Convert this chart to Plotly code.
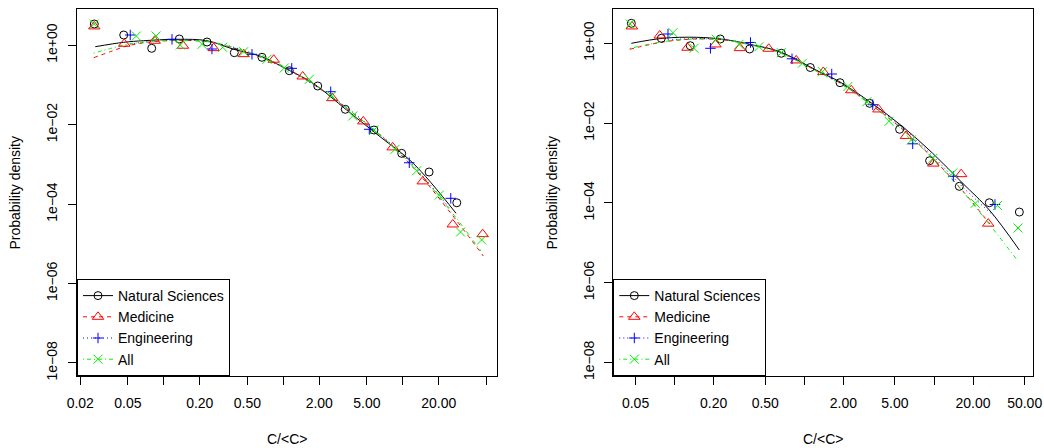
import plotly.graph_objects as go

FONT = "Liberation Sans, Arial, Helvetica, sans-serif"

series_names = ["Natural Sciences", "Medicine", "Engineering", "All"]
series_colors = ["#000000", "#FF0000", "#0000FF", "#00F000"]
series_symbols = ["circle-open", "triangle-up-open", "cross-thin-open", "x-thin-open"]
series_sizes = [8, 10, 7.5, 9]
series_dash = ["solid", "4px,4px", "1px,3px", "1px,3px,4px,3px"]

x_tickvals_left = [0.02, 0.05, 0.1, 0.2, 0.5, 1, 2, 5, 10, 20, 50]
x_ticktext_left = ["0.02", "0.05", "", "0.20", "0.50", "", "2.00", "5.00", "", "20.00", ""]
x_tickvals_right = [0.05, 0.1, 0.2, 0.5, 1, 2, 5, 10, 20, 50]
x_ticktext_right = ["0.05", "", "0.20", "0.50", "", "2.00", "5.00", "", "20.00", "50.00"]
y_tickvals = [1e-8, 1e-6, 1e-4, 1e-2, 1]
y_ticktext = ["1e\u221208", "1e\u221206", "1e\u221204", "1e\u221202", "1e+00"]

# ---------------- Left panel: data points ----------------
L_nat_x = [0.0262, 0.0462, 0.0792, 0.1348, 0.23, 0.389, 0.663, 1.123, 1.941, 3.303, 5.74, 9.79, 16.6, 28.3]
L_nat_y = [3.44, 1.817, 0.84, 1.44, 1.21, 0.651, 0.499, 0.229, 0.0944, 0.0244, 0.00735, 0.0019, 0.000644, 0.000108]

L_med_x = [0.0262, 0.0467, 0.0839, 0.1448, 0.2616, 0.466, 0.831, 1.453, 2.57, 4.67, 8.23, 14.68, 26.2, 46.6]
L_med_y = [2.99, 1.095, 1.30, 0.975, 0.848, 0.599, 0.433, 0.164, 0.0466, 0.0121, 0.00268, 0.000373, 3.07e-5, 1.75e-5]

L_eng_x = [0.0524, 0.1171, 0.253, 0.547, 1.176, 2.493, 5.245, 11.33, 25.2]
L_eng_y = [1.817, 1.416, 0.807, 0.593, 0.263, 0.0678, 0.00766, 0.0011, 0.00014]

L_all_x = [0.0262, 0.0589, 0.0861, 0.1374, 0.2089, 0.311, 0.466, 0.7305, 1.019, 1.651, 2.54, 3.81, 5.74, 8.6, 13.07, 20.2, 30.4, 45.7]
L_all_y = [3.44, 1.715, 1.715, 1.017, 1.06, 0.89, 0.69, 0.444, 0.268, 0.139, 0.0538, 0.01656, 0.00735, 0.0024, 0.000694, 0.000169, 1.98e-5, 1.25e-5]

# ---------------- Left panel: fitted curves ----------------
L_nat_fit_x = [0.0267, 0.0462, 0.0679, 0.129, 0.23, 0.385, 0.663, 1.039, 1.78, 3.39, 6.45, 12.2, 27.9]
L_nat_fit_y = [0.922, 1.19, 1.306, 1.416, 1.306, 0.793, 0.516, 0.263, 0.110, 0.0234, 0.00499, 0.00107, 5.86e-5]

L_med_fit_x = [0.0259, 0.0357, 0.0492, 0.0766, 0.1367, 0.2436, 0.434, 0.774, 1.38, 2.46, 4.38, 7.81, 13.9, 24.8, 47.2]
L_med_fit_y = [0.487, 0.69, 0.96, 1.21, 1.32, 1.21, 0.762, 0.402, 0.169, 0.0528, 0.0139, 0.00327, 0.00054, 6.3e-5, 4.93e-6]

L_eng_fit_x = [0.0521, 0.1127, 0.2436, 0.526, 1.138, 2.46, 5.31, 11.49, 25.3]
L_eng_fit_y = [1.078, 1.36, 1.21, 0.659, 0.225, 0.0544, 0.00927, 0.00115, 7.1e-5]

L_all_fit_x = [0.0259, 0.0357, 0.0492, 0.0766, 0.1367, 0.2436, 0.434, 0.774, 1.38, 2.46, 4.38, 7.81, 13.9, 24.8, 45.1]
L_all_fit_y = [0.629, 0.831, 1.047, 1.246, 1.336, 1.21, 0.784, 0.414, 0.173, 0.0544, 0.0143, 0.00336, 0.000573, 7.1e-5, 6.59e-6]

# ---------------- Right panel: data points ----------------
R_nat_x = [0.0464, 0.079, 0.132, 0.225, 0.379, 0.665, 1.112, 1.885, 3.19, 5.43, 9.25, 15.67, 26.7, 45.5]
R_nat_y = [3.17, 1.335, 0.871, 1.281, 0.72, 0.562, 0.2474, 0.1029, 0.0313, 0.007, 0.00114, 0.00026, 0.000101, 5.9e-5]

R_med_x = [0.0469, 0.0768, 0.1257, 0.2066, 0.319, 0.5314, 0.866, 1.401, 2.30, 3.73, 6.08, 9.88, 16.2, 26.2]
R_med_y = [2.645, 1.573, 0.774, 0.936, 0.756, 0.730, 0.372, 0.191, 0.0666, 0.0220, 0.00477, 0.000966, 0.000525, 3.02e-5]

R_eng_x = [0.0889, 0.189, 0.3847, 0.804, 1.627, 3.37, 6.85, 14.09, 29.5]
R_eng_y = [1.71, 0.749, 1.047, 0.409, 0.170, 0.0289, 0.00303, 0.000464, 9.12e-5]

R_all_x = [0.0455, 0.0972, 0.1411, 0.2097, 0.3137, 0.447, 0.665, 0.965, 1.381, 2.17, 3.04, 4.5, 6.68, 9.82, 13.94, 20.8, 30.9, 44.4]
R_all_y = [3.05, 1.844, 0.749, 1.26, 0.944, 0.822, 0.581, 0.3155, 0.194, 0.0827, 0.0344, 0.0111, 0.00377, 0.00131, 0.000562, 9.77e-5, 8.6e-5, 2.35e-5]

# ---------------- Right panel: fitted curves ----------------
R_nat_fit_x = [0.0464, 0.0814, 0.147, 0.236, 0.402, 0.646, 1.231, 1.885, 3.27, 5.74, 9.77, 16.65, 26.7, 45.5]
R_nat_fit_y = [1.0, 1.335, 1.414, 1.26, 0.906, 0.616, 0.214, 0.107, 0.0325, 0.00813, 0.00175, 0.00031, 6.64e-5, 6.6e-6]

R_med_fit_x = [0.0451, 0.0646, 0.0922, 0.1437, 0.236, 0.402, 0.6497, 1.231, 1.885, 3.27, 5.74, 9.77, 16.65, 27.0]
R_med_fit_y = [0.707, 0.933, 1.142, 1.281, 1.224, 0.891, 0.588, 0.208, 0.101, 0.0292, 0.00691, 0.00133, 0.000199, 2.96e-5]

R_eng_fit_x = [0.0889, 0.1437, 0.236, 0.402, 0.6497, 1.231, 1.885, 3.27, 5.74, 9.77, 16.65, 30.1]
R_eng_fit_y = [1.21, 1.319, 1.245, 0.906, 0.605, 0.211, 0.104, 0.031, 0.00754, 0.0015, 0.00025, 4.18e-5]

R_all_fit_x = [0.0451, 0.0646, 0.0922, 0.1437, 0.236, 0.402, 0.6497, 1.231, 1.885, 3.27, 5.74, 9.77, 16.65, 27.0, 44.2]
R_all_fit_y = [0.741, 0.96, 1.155, 1.281, 1.224, 0.881, 0.581, 0.202, 0.0984, 0.0284, 0.00671, 0.0013, 0.000193, 2.79e-5, 3.56e-6]

left_points = [(L_nat_x, L_nat_y), (L_med_x, L_med_y), (L_eng_x, L_eng_y), (L_all_x, L_all_y)]
left_fits = [(L_nat_fit_x, L_nat_fit_y), (L_med_fit_x, L_med_fit_y), (L_eng_fit_x, L_eng_fit_y), (L_all_fit_x, L_all_fit_y)]
right_points = [(R_nat_x, R_nat_y), (R_med_x, R_med_y), (R_eng_x, R_eng_y), (R_all_x, R_all_y)]
right_fits = [(R_nat_fit_x, R_nat_fit_y), (R_med_fit_x, R_med_fit_y), (R_eng_fit_x, R_eng_fit_y), (R_all_fit_x, R_all_fit_y)]

fig = go.Figure()

def add_panel(points, fits, xa, ya, legend_name):
    for i in range(4):
        fx, fy = fits[i]
        fig.add_trace(go.Scatter(
            x=fx, y=fy, mode="lines", xaxis=xa, yaxis=ya, showlegend=False,
            line=dict(color=series_colors[i], width=1, dash=series_dash[i], shape="spline", smoothing=1.0),
            hoverinfo="skip"))
    for i in range(4):
        px, py = points[i]
        fig.add_trace(go.Scatter(
            x=px, y=py, mode="markers", xaxis=xa, yaxis=ya, showlegend=False,
            marker=dict(symbol=series_symbols[i], size=series_sizes[i], color=series_colors[i],
                        line=dict(color=series_colors[i], width=1))))
    for i in range(4):
        fig.add_trace(go.Scatter(
            x=[None], y=[None], mode="lines+markers", xaxis=xa, yaxis=ya,
            name=series_names[i], legend=legend_name, showlegend=True,
            line=dict(color=series_colors[i], width=1, dash=series_dash[i]),
            marker=dict(symbol=series_symbols[i], size=series_sizes[i], color=series_colors[i],
                        line=dict(color=series_colors[i], width=1))))

add_panel(left_points, left_fits, "x", "y", "legend")
add_panel(right_points, right_fits, "x2", "y2", "legend2")

W, H = 1044, 448
L_left, L_right = 77, 497
R_left, R_right = 613.3, 1033.3
P_top, P_bot = 9.3, 376

def xaxis_cfg(dom, rng, tv, tt):
    return dict(domain=dom, type="log", range=rng, tickvals=tv, ticktext=tt,
                showline=True, linecolor="black", linewidth=1, mirror=True,
                ticks="outside", ticklen=8, tickcolor="black", tickwidth=1,
                showgrid=False, zeroline=False, ticklabelstandoff=6, automargin=False,
                tickfont=dict(family=FONT, size=14, color="black"))

def yaxis_cfg(dom, rng, anchor):
    return dict(domain=dom, type="log", range=rng, tickvals=y_tickvals, ticktext=y_ticktext,
                anchor=anchor, tickangle=-90,
                showline=True, linecolor="black", linewidth=1, mirror=True,
                ticks="outside", ticklen=8, tickcolor="black", tickwidth=1,
                showgrid=False, zeroline=False, ticklabelstandoff=5, automargin=False,
                tickfont=dict(family=FONT, size=14, color="black"))

ydom = [1 - P_bot / H, 1 - P_top / H]
legend_common = dict(xanchor="left", yanchor="bottom", bordercolor="black", borderwidth=1,
                     bgcolor="white", font=dict(family=FONT, size=14, color="black"),
                     tracegroupgap=0, itemwidth=30)

fig.update_layout(
    template="none",
    width=W, height=H,
    margin=dict(l=0, r=0, t=0, b=0, pad=0, autoexpand=False),
    paper_bgcolor="white", plot_bgcolor="white",
    font=dict(family=FONT, size=14, color="black"),
    xaxis=xaxis_cfg([L_left / W, L_right / W], [-1.7264, 1.7883], x_tickvals_left, x_ticktext_left) | dict(anchor="y"),
    yaxis=yaxis_cfg(ydom, [-8.330, 0.9068], "x"),
    xaxis2=xaxis_cfg([R_left / W, R_right / W], [-1.4726, 1.7656], x_tickvals_right, x_ticktext_right) | dict(anchor="y2"),
    yaxis2=yaxis_cfg(ydom, [-8.338, 0.852], "x2"),
    legend=dict(x=L_left / W, y=1 - P_bot / H, **legend_common),
    legend2=dict(x=R_left / W, y=1 - P_bot / H, **legend_common),
    annotations=[
        dict(text="Probability density", x=15 / W, y=1 - 192.6 / H, xref="paper", yref="paper",
             textangle=-90, showarrow=False, xanchor="center", yanchor="middle",
             font=dict(family=FONT, size=14, color="black")),
        dict(text="Probability density", x=552 / W, y=1 - 192.6 / H, xref="paper", yref="paper",
             textangle=-90, showarrow=False, xanchor="center", yanchor="middle",
             font=dict(family=FONT, size=14, color="black")),
        dict(text="C/&lt;C&gt;", x=287 / W, y=1 - 439 / H, xref="paper", yref="paper",
             showarrow=False, xanchor="center", yanchor="middle",
             font=dict(family=FONT, size=14, color="black")),
        dict(text="C/&lt;C&gt;", x=823 / W, y=1 - 439 / H, xref="paper", yref="paper",
             showarrow=False, xanchor="center", yanchor="middle",
             font=dict(family=FONT, size=14, color="black")),
    ],
)

fig.write_html(
    "out.html",
    config={"displayModeBar": False},
    post_script="document.body.style.margin='0px';document.body.style.overflow='hidden';",
)
